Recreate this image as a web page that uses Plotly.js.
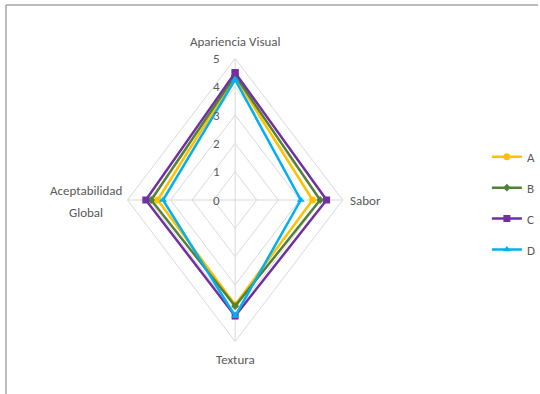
<!DOCTYPE html>
<html>
<head>
<meta charset="utf-8">
<script src="https://cdn.plot.ly/plotly-3.0.1.min.js"></script>
<style>
  html, body { margin: 0; padding: 0; background: #ffffff; }
  #chart { width: 540px; height: 394px; }
</style>
</head>
<body>
<div id="chart"></div>
<script>
// Radar categories, clockwise from the top
const categories = ['Apariencia Visual', 'Sabor', 'Textura', 'Aceptabilidad Global'];
const seriesNames = ['A', 'B', 'C', 'D'];
const valuesA = [4.35, 3.6, 3.7, 3.6];
const valuesB = [4.4, 3.95, 3.75, 3.9];
const valuesC = [4.5, 4.25, 4.1, 4.15];
const valuesD = [4.25, 3.05, 4.1, 3.35];
const tickValues = [0, 1, 2, 3, 4, 5];

const seriesValues = [valuesA, valuesB, valuesC, valuesD];
const seriesColors = ['#FFC000', '#548235', '#7030A0', '#00B0F0'];
const seriesSymbols = ['circle', 'diamond', 'square', 'triangle-up'];
const seriesSizes = [7, 6, 7, 7];

const W = 540, H = 394;
const CX = 236, CY = 200;          // centre of the radar, in pixels
const PX_X = 21.6, PX_Y = 28.3;    // pixels per unit along x and y
const rMax = tickValues[tickValues.length - 1];
const FONT = "Calibri, Carlito, 'Liberation Sans Narrow', 'DejaVu Sans Condensed', 'Open Sans', sans-serif";
const TEXT = '#595959';
const GRID = '#D9D9D9';

const n = categories.length;
function angle(i) { return i * 2 * Math.PI / n; }
function px(r, i) { return +(r * Math.sin(angle(i))).toFixed(6); }
function py(r, i) { return +(r * Math.cos(angle(i))).toFixed(6); }

const traces = [];

// Polygon gridlines for each tick level
const gx = [], gy = [];
tickValues.filter(t => t > 0).forEach(t => {
  for (let i = 0; i <= n; i++) { gx.push(px(t, i % n)); gy.push(py(t, i % n)); }
  gx.push(null); gy.push(null);
});
// Spokes from the centre to each category
for (let i = 0; i < n; i++) {
  gx.push(0, px(rMax, i), null); gy.push(0, py(rMax, i), null);
}
traces.push({
  x: gx, y: gy, type: 'scatter', mode: 'lines',
  line: { color: GRID, width: 1 }, hoverinfo: 'skip', showlegend: false
});

// Series polygons
seriesValues.forEach((vals, s) => {
  const xs = [], ys = [];
  for (let i = 0; i <= n; i++) { xs.push(px(vals[i % n], i % n)); ys.push(py(vals[i % n], i % n)); }
  traces.push({
    x: xs, y: ys, type: 'scatter', mode: 'lines+markers', name: seriesNames[s],
    legendgroup: seriesNames[s],
    line: { color: seriesColors[s], width: 2.5 },
    marker: { color: seriesColors[s], symbol: seriesSymbols[s], size: seriesSizes[s] },
    text: categories, hovertemplate: '%{text}<extra>' + seriesNames[s] + '</extra>'
  });
});

const annotations = [];
// Value labels along the vertical spoke
tickValues.forEach(t => {
  annotations.push({
    x: 0, y: t, xref: 'x', yref: 'y', text: String(t), showarrow: false,
    xanchor: 'right', yanchor: 'middle', xshift: -13,
    font: { family: FONT, size: 13, color: TEXT }
  });
});
// Category labels
annotations.push({
  x: px(rMax, 0), y: py(rMax, 0), xref: 'x', yref: 'y', text: categories[0], showarrow: false,
  xanchor: 'center', yanchor: 'middle', yshift: 17, font: { family: FONT, size: 13, color: TEXT }
});
annotations.push({
  x: px(rMax, 1), y: py(rMax, 1), xref: 'x', yref: 'y', text: categories[1], showarrow: false,
  xanchor: 'left', yanchor: 'middle', xshift: 5, font: { family: FONT, size: 13, color: TEXT }
});
annotations.push({
  x: px(rMax, 2), y: py(rMax, 2), xref: 'x', yref: 'y', text: categories[2], showarrow: false,
  xanchor: 'center', yanchor: 'middle', yshift: -18, font: { family: FONT, size: 13, color: TEXT }
});
const leftWords = categories[3].split(' ');
annotations.push({
  x: px(rMax, 3), y: py(rMax, 3), xref: 'x', yref: 'y', text: leftWords[0], showarrow: false,
  xanchor: 'center', yanchor: 'middle', xshift: -42, yshift: 10, font: { family: FONT, size: 13, color: TEXT }
});
annotations.push({
  x: px(rMax, 3), y: py(rMax, 3), xref: 'x', yref: 'y', text: leftWords[1], showarrow: false,
  xanchor: 'center', yanchor: 'middle', xshift: -42, yshift: -12, font: { family: FONT, size: 13, color: TEXT }
});

const layout = {
  width: W, height: H,
  margin: { l: 0, r: 0, t: 0, b: 0 },
  paper_bgcolor: '#ffffff', plot_bgcolor: '#ffffff',
  xaxis: { range: [-CX / PX_X, (W - CX) / PX_X], visible: false, fixedrange: true },
  yaxis: { range: [-(H - CY) / PX_Y, CY / PX_Y], visible: false, fixedrange: true },
  showlegend: true,
  legend: {
    x: 0.905, y: 0.64, xanchor: 'left', yanchor: 'top',
    font: { family: FONT, size: 13, color: TEXT },
    tracegroupgap: 11, itemwidth: 30, bgcolor: 'rgba(0,0,0,0)'
  },
  annotations: annotations,
  shapes: [
    { type: 'line', xref: 'paper', yref: 'paper', x0: 6 / W, x1: 1, y0: 1 - 5 / H, y1: 1 - 5 / H, line: { color: '#A6A6A6', width: 1.5 } },
    { type: 'line', xref: 'paper', yref: 'paper', x0: 6 / W, x1: 6 / W, y0: 0, y1: 1 - 5 / H, line: { color: '#A6A6A6', width: 1.5 } }
  ]
};

Plotly.newPlot('chart', traces, layout, { displayModeBar: false, staticPlot: true });
</script>
</body>
</html>
